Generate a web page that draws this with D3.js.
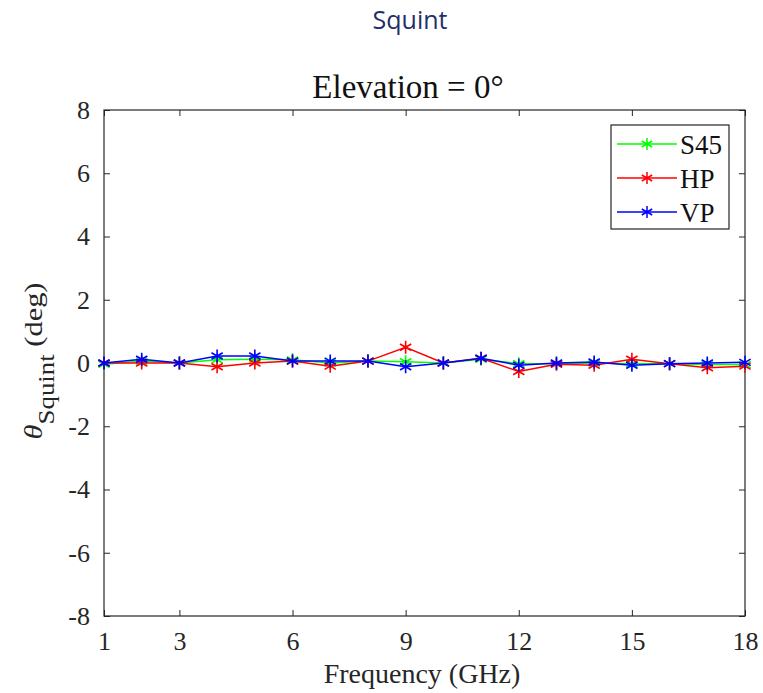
<!DOCTYPE html>
<html>
<head>
<meta charset="utf-8">
<script src="https://cdn.jsdelivr.net/npm/d3@7"></script>
<style>
  body { margin: 0; background: #fff; }
</style>
</head>
<body>
<div class="chart"></div>
<script>
// data
var freqs = [1, 2, 3, 4, 5, 6, 7, 8, 9, 10, 11, 12, 13, 14, 15, 16, 17, 18];
var s45 = [-0.04, 0.06, 0, 0.1, 0.12, 0.1, 0, 0.06, 0.04, 0, 0.12, -0.02, -0.02, 0, -0.02, -0.02, -0.05, -0.05];
var hp  = [0, 0, 0, -0.12, 0, 0.06, -0.1, 0.06, 0.5, 0, 0.15, -0.27, -0.04, -0.07, 0.12, -0.02, -0.15, -0.1];
var vp  = [0, 0.12, 0, 0.22, 0.22, 0.06, 0.06, 0.06, -0.12, 0, 0.15, -0.07, 0, 0.03, -0.07, -0.02, 0, 0.02];
var seriesNames = ["S45", "HP", "VP"];
var seriesColors = ["#00ff00", "#ff0000", "#0000ff"];
var xTicks = [1, 3, 6, 9, 12, 15, 18];
var yTicks = [-8, -6, -4, -2, 0, 2, 4, 6, 8];

var svgWidth = 763;
var svgHeight = 693;
var margin = { top: 110, right: 18, bottom: 77, left: 104 };
var width = svgWidth - margin.left - margin.right;
var height = svgHeight - margin.top - margin.bottom;

var svg = d3.select(".chart")
  .append("svg")
  .attr("width", svgWidth)
  .attr("height", svgHeight);

var chartGroup = svg.append("g")
  .attr("transform", `translate(${margin.left}, ${margin.top})`);

var x = d3.scaleLinear().domain([1, 18]).range([0, width]);
var y = d3.scaleLinear().domain([-8, 8]).range([height, 0]);

var axisColor = "#262626";
var serif = "'Liberation Serif', 'Times New Roman', serif";

function styleAxis(g, showText) {
  g.attr("font-family", serif).attr("font-size", 26);
  g.select(".domain").remove();
  g.selectAll(".tick line").attr("stroke", axisColor);
  g.selectAll(".tick text")
    .attr("fill", axisColor)
    .attr("font-family", serif)
    .attr("font-size", 26);
  if (!showText) g.selectAll(".tick text").remove();
}

var fmt = d => String(d);

// bottom / top
var xAxisG = chartGroup.append("g")
  .attr("transform", `translate(0, ${height})`)
  .call(d3.axisBottom(x).tickValues(xTicks).tickFormat(fmt).tickSize(-6).tickPadding(16));
styleAxis(xAxisG, true);
var xTopG = chartGroup.append("g")
  .call(d3.axisTop(x).tickValues(xTicks).tickSize(-6));
styleAxis(xTopG, false);
// left / right
var yAxisG = chartGroup.append("g")
  .call(d3.axisLeft(y).tickValues(yTicks).tickFormat(fmt).tickSize(-6).tickPadding(14));
styleAxis(yAxisG, true);
var yRightG = chartGroup.append("g")
  .attr("transform", `translate(${width}, 0)`)
  .call(d3.axisRight(y).tickValues(yTicks).tickSize(-6));
styleAxis(yRightG, false);

chartGroup.append("rect")
  .attr("width", width)
  .attr("height", height)
  .attr("fill", "none")
  .attr("stroke", axisColor)
  .attr("stroke-width", 1.2);

// asterisk marker path
function star(r) {
  var d = "";
  for (var k = 0; k < 3; k++) {
    var a = Math.PI / 2 + k * Math.PI / 3;
    var dx = r * Math.cos(a), dy = r * Math.sin(a);
    d += `M${-dx},${-dy}L${dx},${dy}`;
  }
  return d;
}

var allSeries = [s45, hp, vp];
var line = d3.line()
  .x((d, i) => x(freqs[i]))
  .y(d => y(d));

allSeries.forEach(function (vals, s) {
  var g = chartGroup.append("g");
  g.append("path")
    .datum(vals)
    .attr("d", line)
    .attr("fill", "none")
    .attr("stroke", seriesColors[s])
    .attr("stroke-width", 1.5);
  g.selectAll("path.mk")
    .data(vals)
    .enter()
    .append("path")
    .attr("class", "mk")
    .attr("transform", (d, i) => `translate(${x(freqs[i])}, ${y(d)})`)
    .attr("d", star(6.5))
    .attr("stroke", seriesColors[s])
    .attr("stroke-width", 1.6);
});

// legend
var legend = svg.append("g").attr("transform", "translate(611, 125)");
legend.append("rect")
  .attr("width", 118)
  .attr("height", 104)
  .attr("fill", "#fff")
  .attr("stroke", axisColor)
  .attr("stroke-width", 1.2);
seriesNames.forEach(function (name, s) {
  var row = legend.append("g").attr("transform", `translate(0, ${19 + s * 34})`);
  row.append("line")
    .attr("x1", 6).attr("x2", 66)
    .attr("stroke", seriesColors[s]).attr("stroke-width", 1.5);
  row.append("path")
    .attr("transform", "translate(36, 0)")
    .attr("d", star(6))
    .attr("stroke", seriesColors[s]).attr("stroke-width", 1.5);
  row.append("text")
    .attr("x", 69)
    .attr("y", 10)
    .attr("font-family", serif)
    .attr("font-size", 27)
    .attr("fill", "#111")
    .text(name);
});

// titles
svg.append("text")
  .attr("x", 410)
  .attr("y", 29)
  .attr("text-anchor", "middle")
  .attr("font-family", "'Open Sans', 'Noto Sans', sans-serif")
  .attr("font-size", 25)
  .attr("fill", "#1f3068")
  .text("Squint");

svg.append("text")
  .attr("x", 408)
  .attr("y", 98)
  .attr("text-anchor", "middle")
  .attr("font-family", serif)
  .attr("font-size", 33)
  .attr("fill", "#111")
  .text("Elevation = 0°");

svg.append("text")
  .attr("x", 422)
  .attr("y", 683)
  .attr("text-anchor", "middle")
  .attr("font-family", serif)
  .attr("font-size", 28)
  .attr("fill", "#262626")
  .text("Frequency (GHz)");

// y label, stretched along its length to the reference's span
var ylab = svg.append("text")
  .attr("text-anchor", "middle")
  .attr("font-family", serif)
  .attr("font-size", 26)
  .attr("fill", "#262626");
ylab.append("tspan").attr("font-style", "italic").text("θ");
ylab.append("tspan").attr("dy", 12).attr("font-size", 23).text("Squint");
ylab.append("tspan").attr("dy", -12).text(" (deg)");
var natural = ylab.node().getComputedTextLength() || 157;
ylab.attr("transform", `translate(42, 361) rotate(-90) scale(${157 / natural}, 1)`);
</script>
</body>
</html>
